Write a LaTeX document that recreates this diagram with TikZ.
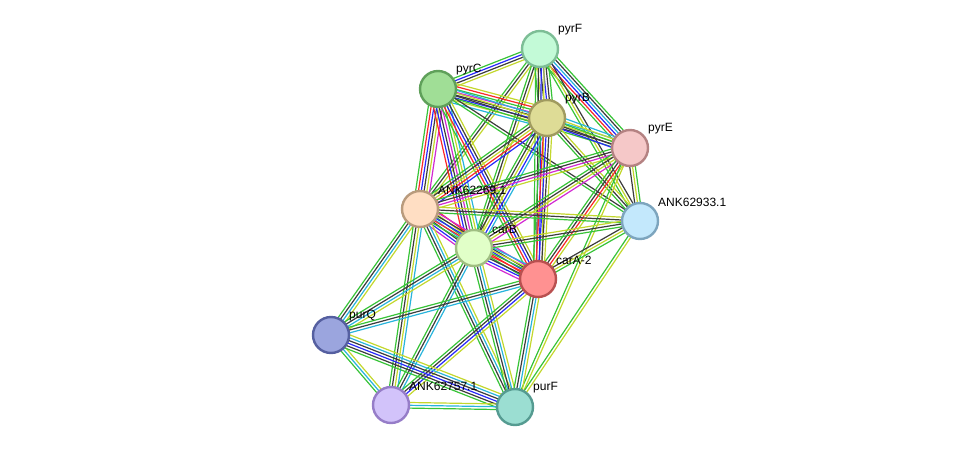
\documentclass[tikz,border=0pt]{standalone}
\usepackage{fontspec}
\setmainfont{Liberation Sans}
\usetikzlibrary{calc}
\definecolor{eg}{RGB}{55,195,55}
\definecolor{er}{RGB}{250,40,40}
\definecolor{eb}{RGB}{40,40,250}
\definecolor{ek}{RGB}{60,60,60}
\definecolor{ey}{RGB}{195,215,45}
\definecolor{ec}{RGB}{40,180,220}
\definecolor{em}{RGB}{210,40,210}
\tikzset{
  edge/.style={line width=1.2pt},
  prot/.style={circle,minimum size=36pt,inner sep=0pt,line width=2.4pt},
  lab/.style={anchor=west,font=\fontsize{12}{12}\selectfont,inner sep=0pt}
}
\newcommand\bund[3]{%
  \xdef\nn{0}%
  \foreach \c in {#3}{\xdef\nn{\the\numexpr\nn+1\relax}}%
  \foreach \c [count=\i] in {#3}{%
    \pgfmathsetmacro\off{(\i-(\nn+1)/2)*2.8}%
    \draw[edge,\c] ($(#1)!\off pt!90:(#2)$) -- ($(#2)!\off pt!-90:(#1)$);
  }%
}
\newcommand\plab[3]{%
  \node[lab] (#2) at ($(#1)+(18,-19)$) {#3};
}
\begin{document}
\begin{tikzpicture}[x=1pt,y=-1pt]
\useasboundingbox (0,0) rectangle (975,453);
\coordinate (F) at (540,49);
\coordinate (C) at (438,89);
\coordinate (B) at (547,118);
\coordinate (E) at (630,148);
\coordinate (A1) at (420,209);
\coordinate (A3) at (640,221);
\coordinate (cB) at (474,248);
\coordinate (cA) at (538,279);
\coordinate (Q) at (331,335);
\coordinate (A7) at (391,405);
\coordinate (pF) at (515,407);
% edges
\bund{F}{C}{eg,eb,ek,ey}
\bund{F}{B}{eg,ey,ek,eb,ek,eg}
\bund{F}{E}{eg,er,eb,ec,ek,eg}
\bund{F}{A1}{eg,ek,ey}
\bund{F}{cB}{eg,ek,ey}
\bund{F}{cA}{eg,ek,eb,ey}
\bund{F}{A3}{eg,ey,ek}
\bund{C}{B}{ec,ey,eb,ek,em,eg,er,ey}
\bund{C}{E}{eg,ek,ey,ec}
\bund{C}{A1}{eg,er,eb,ek,ey,em}
\bund{C}{cB}{er,eb,ek,em,eg,ey,ec}
\bund{C}{cA}{eg,er,eb,ek,ey}
\bund{C}{A3}{eg,ek}
\bund{B}{E}{eb,ek,eg,ey,ec}
\bund{B}{A1}{eg,ek,ey,er,eb}
\bund{B}{cB}{eg,ek,ey,eb,ec}
\bund{B}{cA}{eg,er,eb,ek,ey}
\bund{B}{A3}{eg,ek,ey}
\bund{E}{A1}{eg,ek,em,ey}
\bund{E}{cB}{eg,ek,ey,em}
\bund{E}{cA}{eg,ek,er,ey}
\bund{E}{A3}{ek,ey,eg}
\bund{E}{pF}{eg,ey}
\bund{A1}{cB}{em,eb,ek,ec,eg,ey,er}
\bund{A1}{cA}{eg,er,eb,ek,em}
\bund{A1}{A3}{eg,ek,ey}
\bund{A1}{Q}{eg,ek,ec,ey}
\bund{A1}{A7}{eg,ek,ey,ec}
\bund{A1}{pF}{eg,ek,ec,ey}
\bund{cB}{cA}{em,eb,ek,er,eg,ey,ec}
\bund{cB}{A3}{eg,ek,ey}
\bund{cB}{Q}{eg,ek,ec,ey}
\bund{cB}{A7}{eg,ek,ec}
\bund{cB}{pF}{eg,ek,ec,ey}
\bund{cA}{A3}{eg,ey,ek}
\bund{cA}{Q}{eg,ek,ec}
\bund{cA}{A7}{eg,ek,eb,ey}
\bund{cA}{pF}{eg,ek,ec,ey}
\bund{A3}{pF}{eg,ey}
\bund{Q}{A7}{eg,ec,ey}
\bund{Q}{pF}{eg,ek,eb,ek,ec,ey}
\bund{A7}{pF}{eg,ec,ey}
% nodes
\node[prot,fill={rgb,255:red,195;green,250;blue,215},draw={rgb,255:red,125;green,190;blue,150}] (nF) at (F) {};
\node[prot,fill={rgb,255:red,160;green,222;blue,150},draw={rgb,255:red,95;green,160;blue,90}] (nC) at (C) {};
\node[prot,fill={rgb,255:red,222;green,220;blue,150},draw={rgb,255:red,160;green,155;blue,95}] (nB) at (B) {};
\node[prot,fill={rgb,255:red,245;green,200;blue,200},draw={rgb,255:red,180;green,130;blue,130}] (nE) at (E) {};
\node[prot,fill={rgb,255:red,255;green,222;blue,195},draw={rgb,255:red,185;green,155;blue,125}] (nA1) at (A1) {};
\node[prot,fill={rgb,255:red,195;green,232;blue,252},draw={rgb,255:red,125;green,165;blue,190}] (nA3) at (A3) {};
\node[prot,fill={rgb,255:red,225;green,255;blue,200},draw={rgb,255:red,160;green,190;blue,130}] (ncB) at (cB) {};
\node[prot,fill={rgb,255:red,255;green,145;blue,145},draw={rgb,255:red,185;green,80;blue,80}] (ncA) at (cA) {};
\node[prot,fill={rgb,255:red,155;green,165;blue,222},draw={rgb,255:red,85;green,95;blue,160}] (nQ) at (Q) {};
\node[prot,fill={rgb,255:red,210;green,195;blue,250},draw={rgb,255:red,150;green,125;blue,200}] (nA7) at (A7) {};
\node[prot,fill={rgb,255:red,155;green,222;blue,210},draw={rgb,255:red,85;green,155;blue,145}] (npF) at (pF) {};
% labels
\plab{F}{lF}{pyrF}
\plab{C}{lC}{pyrC}
\plab{B}{lB}{pyrB}
\plab{E}{lE}{pyrE}
\plab{A1}{lA1}{ANK62269.1}
\plab{A3}{lA3}{ANK62933.1}
\plab{cB}{lcB}{carB}
\plab{cA}{lcA}{carA-2}
\plab{Q}{lQ}{purQ}
\plab{A7}{lA7}{ANK62757.1}
\plab{pF}{lpF}{purF}
\end{tikzpicture}
\end{document}
